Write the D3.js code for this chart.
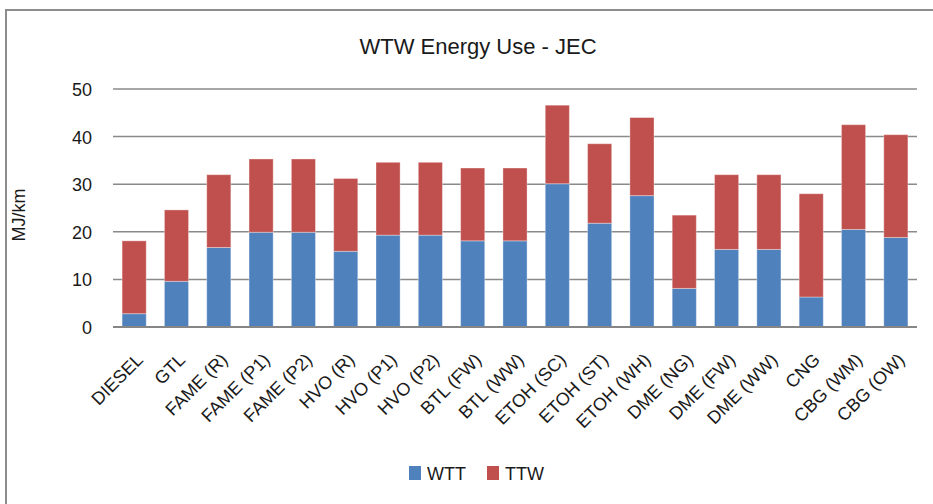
<!DOCTYPE html>
<html>
<head>
<meta charset="utf-8">
<script src="https://cdn.jsdelivr.net/npm/d3@7"></script>
<style>
    body { margin: 0; background: #fff; }
    text { font-family: "Liberation Sans", Arial, sans-serif; fill: #1a1a1a; }
</style>
</head>
<body>
<svg id="chart" width="933" height="504"></svg>
<script>
// categories and values (MJ/km)
var fuels = ["DIESEL", "GTL", "FAME (R)", "FAME (P1)", "FAME (P2)", "HVO (R)", "HVO (P1)", "HVO (P2)",
    "BTL (FW)", "BTL (WW)", "ETOH (SC)", "ETOH (ST)", "ETOH (WH)", "DME (NG)", "DME (FW)", "DME (WW)",
    "CNG", "CBG (WM)", "CBG (OW)"];
var wtt = [2.8, 9.6, 16.7, 19.9, 19.9, 15.9, 19.3, 19.3, 18.1, 18.1, 30.1, 21.8, 27.6, 8.1, 16.3, 16.3, 6.3, 20.5, 18.8];
var ttw = [15.3, 15.0, 15.3, 15.4, 15.4, 15.3, 15.3, 15.3, 15.3, 15.3, 16.5, 16.7, 16.4, 15.4, 15.7, 15.7, 21.7, 22.0, 21.6];
var yTicks = [0, 10, 20, 30, 40, 50];
var seriesNames = ["WTT", "TTW"];
var seriesColors = ["#4F81BD", "#C0504D"];

var svg = d3.select("#chart");

var plotLeft = 113, plotRight = 917;
var plotTop = 89, plotBottom = 327;

var rows = fuels.map(function(f, i) {
    return { fuel: f, WTT: wtt[i], TTW: ttw[i] };
});
var stacked = d3.stack().keys(seriesNames)(rows);

var xScale = d3.scaleBand()
    .domain(fuels)
    .range([plotLeft, plotRight])
    .paddingInner(0.43)
    .paddingOuter(0.215);
var yScale = d3.scaleLinear()
    .domain([0, 50])
    .range([plotBottom, plotTop]);

// outer border
svg.append("rect")
    .attr("x", 6)
    .attr("y", 10)
    .attr("width", 960)
    .attr("height", 520)
    .attr("fill", "none")
    .attr("stroke", "#8c8c8c")
    .attr("stroke-width", 2);

// title
svg.append("text")
    .attr("x", 478)
    .attr("y", 54)
    .attr("text-anchor", "middle")
    .style("font-size", "22px")
    .text("WTW Energy Use - JEC");

// gridlines
svg.append("g")
    .selectAll("line")
    .data(yTicks.slice(1))
    .join("line")
    .attr("x1", plotLeft)
    .attr("x2", plotRight)
    .attr("y1", function(d) { return yScale(d); })
    .attr("y2", function(d) { return yScale(d); })
    .attr("stroke", "#8a8a8a")
    .attr("stroke-width", 1.5);

// y axis labels
var yAxis = d3.axisLeft(yScale)
    .tickValues(yTicks)
    .tickSize(0)
    .tickPadding(21);
var yAxisG = svg.append("g")
    .attr("transform", "translate(" + plotLeft + ",0)")
    .call(yAxis);
yAxisG.select(".domain").remove();
yAxisG.selectAll("text")
    .style("font-size", "18px")
    .attr("dy", "0.36em");

svg.append("text")
    .attr("transform", "translate(25,215) rotate(-90)")
    .attr("text-anchor", "middle")
    .style("font-size", "18px")
    .text("MJ/km");

// bars
svg.append("g")
    .selectAll("g")
    .data(stacked)
    .join("g")
    .attr("fill", function(d, i) { return seriesColors[i]; })
    .selectAll("rect")
    .data(function(d) { return d; })
    .join("rect")
    .attr("x", function(d) { return xScale(d.data.fuel); })
    .attr("y", function(d) { return yScale(d[1]); })
    .attr("width", xScale.bandwidth())
    .attr("height", function(d) { return yScale(d[0]) - yScale(d[1]); })
    .attr("stroke", "rgba(255,255,255,0.35)")
    .attr("stroke-width", 1);

// x axis line
svg.append("line")
    .attr("x1", plotLeft)
    .attr("x2", plotRight)
    .attr("y1", plotBottom)
    .attr("y2", plotBottom)
    .attr("stroke", "#868686")
    .attr("stroke-width", 2);

// x labels, rotated
svg.append("g")
    .selectAll("text")
    .data(fuels)
    .join("text")
    .attr("transform", function(d) {
        return "translate(" + (xScale(d) + xScale.bandwidth() / 2 + 1) + "," + (plotBottom + 25) + ") rotate(-45)";
    })
    .attr("text-anchor", "end")
    .attr("dy", "0.7em")
    .style("font-size", "18px")
    .text(function(d) { return d; });

// legend
var legend = svg.append("g")
    .selectAll("g")
    .data(seriesNames)
    .join("g")
    .attr("transform", function(d, i) { return "translate(" + (409 + i * 78) + ",466)"; });
legend.append("rect")
    .attr("width", 12)
    .attr("height", 14)
    .attr("fill", function(d, i) { return seriesColors[i]; });
legend.append("text")
    .attr("x", 18)
    .attr("y", 14)
    .style("font-size", "18px")
    .text(function(d) { return d; });
</script>
</body>
</html>
